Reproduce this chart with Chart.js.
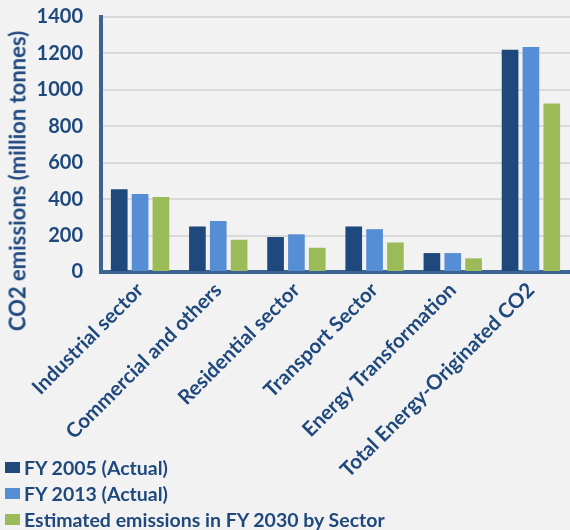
<!DOCTYPE html>
<html>
<head>
<meta charset="utf-8">
<script src="https://cdn.jsdelivr.net/npm/chart.js@4/dist/chart.umd.min.js"></script>
<style>
  body { margin: 0; background: #f2f2f2; }
  #wrap { position: relative; width: 570px; height: 530px; font-family: Lato, "Open Sans", sans-serif; }
  #yTitle {
    position: absolute; left: 17px; top: 181px;
    transform: translate(-50%, -50%) rotate(-90deg);
    white-space: nowrap; font-weight: bold; font-size: 22px; color: #1f497d;
  }
  #legend { position: absolute; left: 5px; top: 454px; }
  .item { display: flex; align-items: center; height: 26px; font-weight: bold; font-size: 19.5px; color: #1f497d; }
  .box { width: 15px; height: 11px; margin-right: 4px; }
</style>
</head>
<body>
<div id="wrap">
  <canvas id="co2Chart"></canvas>
  <div id="yTitle">CO2 emissions (million tonnes)</div>
  <div id="legend"></div>
</div>
<script>
// kategori dan nilai (juta ton)
const sectors = ['Industrial sector', 'Commercial and others', 'Residential sector',
  'Transport Sector', 'Energy Transformation', 'Total Energy-Originated CO2'];
const fy2005 = [455, 250, 192, 250, 104, 1220];
const fy2013 = [428, 280, 207, 235, 104, 1235];
const fy2030 = [412, 177, 133, 162, 75, 925];
const yTicks = [0, 200, 400, 600, 800, 1000, 1200, 1400];

const seriesNames = ['FY 2005 (Actual)', 'FY 2013 (Actual)', 'Estimated emissions in FY 2030 by Sector'];
const seriesColors = ['#1f497d', '#558ed5', '#9bbb59'];
const textColor = '#1f497d';
const axisColor = '#3d6491';

const ctx = document.getElementById('co2Chart').getContext('2d');
const chart = new Chart(ctx, {
  type: 'bar',
  data: {
    labels: sectors,
    datasets: [fy2005, fy2013, fy2030].map((vals, i) => ({
      label: seriesNames[i],
      data: vals,
      backgroundColor: seriesColors[i],
      borderWidth: 0,
      barPercentage: 0.8,
      categoryPercentage: 0.8
    }))
  },
  options: {
    responsive: true,
    maintainAspectRatio: false,
    animation: false,
    layout: { padding: { top: 17, left: 0, right: 0, bottom: 0 } },
    plugins: { legend: { display: false }, tooltip: { enabled: false } },
    scales: {
      x: {
        grid: { display: false, drawTicks: false },
        border: { color: axisColor, width: 4 },
        ticks: {
          color: textColor,
          font: { family: 'Lato', size: 20.5, weight: 'bold' },
          minRotation: 45, maxRotation: 45,
          autoSkip: false,
          padding: 6
        },
        afterFit: scale => { scale.height = 258; scale.paddingLeft = 0; scale.paddingRight = 0; }
      },
      y: {
        min: 0, max: 1400,
        afterBuildTicks: scale => { scale.ticks = yTicks.map(v => ({ value: v })); },
        grid: { color: '#d9d9d9', lineWidth: 2, drawTicks: false },
        border: { color: axisColor, width: 4 },
        ticks: {
          color: textColor,
          font: { family: 'Lato', size: 20, weight: 'bold' },
          padding: 18,
          callback: v => String(v)
        },
        afterFit: scale => { scale.width = 101; scale.paddingTop = 0; scale.paddingBottom = 0; }
      }
    }
  }
});

// legenda manual, satu item per baris
const legend = document.getElementById('legend');
chart.data.datasets.forEach(ds => {
  const row = document.createElement('div');
  row.className = 'item';
  const box = document.createElement('span');
  box.className = 'box';
  box.style.background = ds.backgroundColor;
  row.appendChild(box);
  row.appendChild(document.createTextNode(ds.label));
  legend.appendChild(row);
});
</script>
</body>
</html>
